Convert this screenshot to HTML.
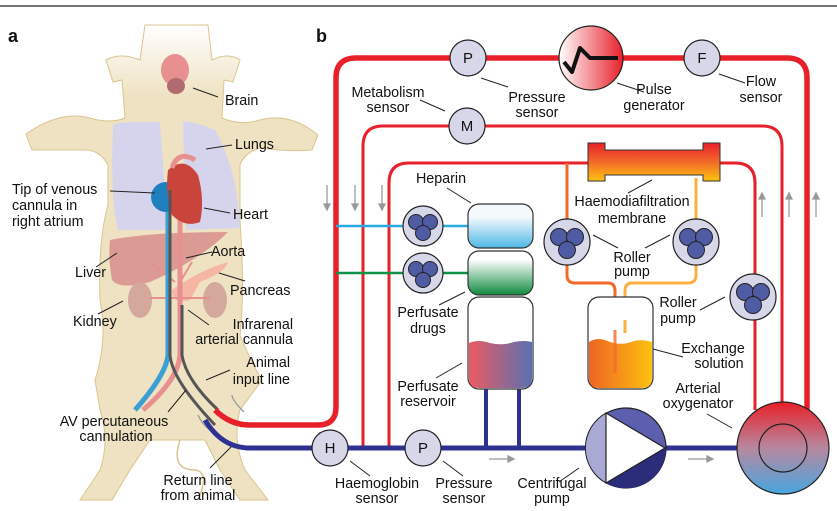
<!DOCTYPE html>
<html><head><meta charset="utf-8"><style>
body{margin:0;background:#fff}
svg{display:block}
text{font-family:"Liberation Sans",Arial,sans-serif;font-size:14.3px;fill:#111}
</style></head><body>
<svg width="837" height="511" viewBox="0 0 837 511" xmlns="http://www.w3.org/2000/svg">
<defs>
<linearGradient id="pg" x1="0" x2="1"><stop offset="0" stop-color="#fff"/><stop offset="1" stop-color="#e8202a"/></linearGradient>
<linearGradient id="hep" x1="0" y1="0" x2="0" y2="1"><stop offset="0.3" stop-color="#f4f9fc"/><stop offset="1" stop-color="#4fb8e6"/></linearGradient>
<linearGradient id="drg" x1="0" y1="0" x2="0" y2="1"><stop offset="0.2" stop-color="#fff"/><stop offset="1" stop-color="#0f8a3f"/></linearGradient>
<linearGradient id="res" x1="0" x2="1"><stop offset="0" stop-color="#ec5a63"/><stop offset="1" stop-color="#5a70b0"/></linearGradient>
<linearGradient id="exc" x1="0" x2="1"><stop offset="0" stop-color="#ee6324"/><stop offset="1" stop-color="#fcc20f"/></linearGradient>
<linearGradient id="mem" x1="0" y1="0" x2="0" y2="1"><stop offset="0" stop-color="#e8202a"/><stop offset="0.5" stop-color="#f26a2a"/><stop offset="1" stop-color="#fcc30f"/></linearGradient>
<linearGradient id="oxy" x1="0" y1="0" x2="0" y2="1"><stop offset="0" stop-color="#e8202a"/><stop offset="0.5" stop-color="#b7889f"/><stop offset="1" stop-color="#48a6e0"/></linearGradient>
<linearGradient id="head" x1="0" y1="0" x2="0" y2="1"><stop offset="0" stop-color="#fff"/><stop offset="0.15" stop-color="#efe2c2"/></linearGradient>
<g id="rp"><circle r="23" fill="#d7d7ea" stroke="#222" stroke-width="1.2"/><circle cx="-8" cy="-5" r="8.5" fill="#4f5ba3" stroke="#222" stroke-width="1"/><circle cx="8" cy="-5" r="8.5" fill="#4f5ba3" stroke="#222" stroke-width="1"/><circle cx="0" cy="8" r="8.5" fill="#4f5ba3" stroke="#222" stroke-width="1"/></g>
<g id="rps"><circle r="20" fill="#d7d7ea" stroke="#222" stroke-width="1.2"/><circle cx="-7" cy="-4" r="7.5" fill="#4f5ba3" stroke="#222" stroke-width="1"/><circle cx="7" cy="-4" r="7.5" fill="#4f5ba3" stroke="#222" stroke-width="1"/><circle cx="0" cy="7" r="7.5" fill="#4f5ba3" stroke="#222" stroke-width="1"/></g>
</defs>
<line x1="0" y1="6" x2="837" y2="6" stroke="#222" stroke-width="1.2"/>
<text x="8" y="42" style="font-weight:bold;font-size:18px">a</text>
<text x="316" y="42" style="font-weight:bold;font-size:18px">b</text>

<!-- PIG -->
<path d="M145 25 L208 25 L212 60 Q228 52 240 60 L233 82 L224 80 L222 118 Q240 126 260 120 Q290 112 318 135 L312 150 Q290 152 260 148 Q245 152 240 165 L240 220 Q245 290 240 335 Q250 360 262 380 L240 410 Q232 440 245 470 L268 500 L240 500 L220 470 L205 440 L150 440 L130 470 L112 500 L80 500 L100 470 Q110 440 100 410 L95 380 Q108 340 100 300 Q98 240 108 205 L108 165 Q100 150 85 150 Q55 150 32 150 L26 134 Q60 110 90 118 Q110 124 125 118 L122 80 L113 82 L106 60 Q120 52 140 60 Z" fill="url(#head)" stroke="#d8c690" stroke-width="1"/>
<path d="M180 440 Q170 470 195 470 Q210 472 198 500" fill="none" stroke="#d8c690" stroke-width="1.5"/>
<ellipse cx="175" cy="70" rx="14" ry="16" fill="#e88f90"/>
<ellipse cx="176" cy="86" rx="9" ry="8" fill="#b06a70"/>
<path d="M113 125 Q118 121 160 122 L168 230 L118 230 Q110 200 113 125Z" fill="#d6d4ec"/>
<path d="M183 122 Q190 120 215 130 Q238 170 240 228 L186 230Z" fill="#d6d4ec"/>
<path d="M110 240 Q150 232 228 232 Q200 260 150 282 Q120 290 112 280 Q108 260 110 240Z" fill="#dc9a94"/>
<path d="M172 290 Q200 270 228 262 Q226 272 200 282 L190 300 Q172 305 172 290Z" fill="#f5b6a4"/>
<ellipse cx="140" cy="300" rx="12" ry="18" fill="#d4a89c"/>
<ellipse cx="215" cy="300" rx="12" ry="18" fill="#d4a89c"/>
<path d="M150 298 L210 298 M150 262 L175 282 M192 262 L180 282" stroke="#e88f90" stroke-width="2" fill="none"/>
<path d="M168 210 L168 355 Q166 375 135 410" stroke="#3aa0d4" stroke-width="5" fill="none"/>
<path d="M180 180 L180 355 Q178 380 143 410" stroke="#e88f90" stroke-width="5" fill="none"/>
<circle cx="166" cy="197" r="15" fill="#1f80c0"/>
<path d="M168 170 Q185 155 198 175 Q205 200 200 222 Q185 228 172 215 Q165 195 168 170Z" fill="#c9443a"/>
<path d="M172 168 Q178 150 195 160" stroke="#e88f90" stroke-width="5" fill="none"/>
<path d="M170 190 L170 355 Q172 380 215 425" stroke="#555" stroke-width="3" fill="none"/>
<path d="M182 305 L182 355 Q186 380 218 410" stroke="#555" stroke-width="3" fill="none"/>
<path d="M244 412 Q232 400 232 395" stroke="#999" stroke-width="1.3" fill="none"/>
<path d="M198 415 Q204 428 214 432" stroke="#999" stroke-width="1.3" fill="none"/>
<g stroke="#222" stroke-width="1">
<line x1="193" y1="88" x2="218" y2="97"/><line x1="206" y1="149" x2="232" y2="145"/>
<line x1="110" y1="191" x2="155" y2="193"/><line x1="204" y1="208" x2="230" y2="213"/>
<line x1="186" y1="258" x2="212" y2="252"/><line x1="219" y1="273" x2="245" y2="281"/>
<line x1="96" y1="267" x2="117" y2="253"/><line x1="98" y1="314" x2="123" y2="301"/>
<line x1="188" y1="310" x2="209" y2="325"/><line x1="206" y1="380" x2="230" y2="370"/>
<line x1="168" y1="412" x2="186" y2="390"/><line x1="210" y1="468" x2="234" y2="444"/>
</g>
<text x="225" y="105">Brain</text><text x="235" y="149">Lungs</text>
<text x="12" y="194">Tip of venous</text><text x="12" y="210">cannula in</text><text x="12" y="226">right atrium</text>
<text x="233" y="219">Heart</text><text x="211" y="256">Aorta</text><text x="230" y="295">Pancreas</text>
<text x="75" y="277">Liver</text><text x="73" y="326">Kidney</text>
<text x="293" y="329" text-anchor="end">Infrarenal</text><text x="293" y="344" text-anchor="end">arterial cannula</text>
<text x="290" y="367" text-anchor="end">Animal</text><text x="290" y="384" text-anchor="end">input line</text>
<text x="114" y="426" text-anchor="middle">AV percutaneous</text><text x="116" y="441" text-anchor="middle">cannulation</text>
<text x="198" y="485" text-anchor="middle">Return line</text><text x="198" y="500" text-anchor="middle">from animal</text>

<!-- CIRCUIT lines -->
<path d="M215 410 Q230 425 250 425 L318 425 Q336 425 336 407 L336 78 Q336 58 356 58 L787 58 Q807 58 807 78 L807 410" fill="none" stroke="#e8202a" stroke-width="5.5"/>
<path d="M363 448 L363 146 Q363 126 383 126 L762 126 Q782 126 782 146 L782 405" fill="none" stroke="#e8202a" stroke-width="3"/>
<path d="M389 448 L389 183 Q389 163 409 163 L735 163 Q755 163 755 183 L755 410" fill="none" stroke="#e8202a" stroke-width="3"/>
<path d="M567 163 L567 275 Q567 283 575 283 L608 283 Q615 283 615 291 L615 373" fill="none" stroke="#f26a2a" stroke-width="3"/>
<path d="M696 178 L696 275 Q696 283 688 283 L632 283 Q625 283 625 291 L625 333" fill="none" stroke="#fbb040" stroke-width="3"/>
<line x1="336" y1="226" x2="468" y2="226" stroke="#27aae1" stroke-width="2.5"/>
<line x1="336" y1="273" x2="468" y2="273" stroke="#0f9145" stroke-width="2.5"/>
<path d="M205 420 Q222 448 250 448 L783 448" fill="none" stroke="#2e3192" stroke-width="5"/>
<line x1="486" y1="389" x2="486" y2="448" stroke="#2e3192" stroke-width="4"/>
<line x1="519" y1="389" x2="519" y2="448" stroke="#2e3192" stroke-width="4"/>

<!-- arrows -->
<g stroke="#999" stroke-width="1.3" fill="#999">
<line x1="327" y1="185" x2="327" y2="208"/><path d="M324 204 L327 210 L330 204Z"/>
<line x1="355" y1="185" x2="355" y2="208"/><path d="M352 204 L355 210 L358 204Z"/>
<line x1="382" y1="185" x2="382" y2="208"/><path d="M379 204 L382 210 L385 204Z"/>
<line x1="762" y1="196" x2="762" y2="217"/><path d="M759 199 L762 193 L765 199Z"/>
<line x1="789" y1="196" x2="789" y2="217"/><path d="M786 199 L789 193 L792 199Z"/>
<line x1="816" y1="196" x2="816" y2="217"/><path d="M813 199 L816 193 L819 199Z"/>
<line x1="489" y1="459" x2="512" y2="459"/><path d="M508 456 L514 459 L508 462Z"/>
<line x1="688" y1="459" x2="711" y2="459"/><path d="M707 456 L713 459 L707 462Z"/>
</g>

<!-- membrane -->
<path d="M588 143 L605 143 L605 150 L703 150 L703 143 L720 143 L720 181 L703 181 L703 175 L605 175 L605 181 L588 181Z" fill="url(#mem)" stroke="#333" stroke-width="1"/>

<!-- containers -->
<rect x="468" y="204" width="65" height="44" rx="11" fill="url(#hep)" stroke="#333" stroke-width="1.2"/>
<rect x="468" y="251" width="65" height="44" rx="11" fill="url(#drg)" stroke="#333" stroke-width="1.2"/>
<rect x="468" y="297" width="65" height="92" rx="11" fill="#fff" stroke="#333" stroke-width="1.2"/>
<path d="M469 343 Q478 339 490 343 Q502 346 514 342 Q524 340 532 342 L532 378 Q532 388 522 388 L479 388 Q469 388 469 378Z" fill="url(#res)"/>
<rect x="588" y="297" width="65" height="92" rx="11" fill="#fff" stroke="#333" stroke-width="1.2"/>
<path d="M589 342 Q598 336 610 342 Q622 346 634 341 Q644 339 652 342 L652 378 Q652 388 642 388 L599 388 Q589 388 589 378Z" fill="url(#exc)"/>
<line x1="615" y1="330" x2="615" y2="373" stroke="#f26a2a" stroke-width="3" opacity="0.8"/>
<line x1="625" y1="320" x2="625" y2="333" stroke="#fbb040" stroke-width="3"/>

<!-- pumps -->
<use href="#rps" x="423" y="226"/><use href="#rps" x="423" y="273"/>
<use href="#rp" x="567" y="242"/><use href="#rp" x="696" y="242"/><use href="#rp" x="753" y="297"/>

<!-- sensors -->
<g fill="#d7d7ea" stroke="#222" stroke-width="1.2">
<circle cx="468" cy="58" r="18"/><circle cx="702" cy="58" r="18"/><circle cx="467" cy="126" r="18"/>
<circle cx="330" cy="448" r="18"/><circle cx="423" cy="448" r="18"/>
</g>
<g text-anchor="middle">
<text x="468" y="63" style="font-size:15px">P</text><text x="702" y="63" style="font-size:15px">F</text><text x="467" y="131" style="font-size:15px">M</text>
<text x="330" y="453" style="font-size:15px">H</text><text x="423" y="453" style="font-size:15px">P</text>
</g>
<circle cx="591" cy="58" r="32" fill="url(#pg)" stroke="#222" stroke-width="1.2"/>
<path d="M564 62 L572 72 L580 48 L590 58 L618 58" fill="none" stroke="#111" stroke-width="4" stroke-linejoin="round"/>

<!-- centrifugal pump -->
<circle cx="626" cy="448" r="40" fill="#5b5fae" stroke="#222" stroke-width="1.2"/>
<path d="M626 448 L666 448 A40 40 0 0 1 606 483Z" fill="#2b2d7a"/>
<path d="M606 413 A40 40 0 0 0 606 483Z" fill="#a9a9d6" stroke="#222"/>
<path d="M606 413 L665 448 L606 483Z" fill="#fff" stroke="#222" stroke-width="1.2"/>
<!-- oxygenator -->
<circle cx="783" cy="448" r="46" fill="url(#oxy)" stroke="#222" stroke-width="1.2"/>
<circle cx="783" cy="448" r="24" fill="none" stroke="#222" stroke-width="1.2"/>

<!-- leader lines -->
<g stroke="#222" stroke-width="1">
<line x1="420" y1="100" x2="445" y2="111"/><line x1="481" y1="78" x2="508" y2="87"/>
<line x1="617" y1="83" x2="644" y2="92"/><line x1="719" y1="74" x2="745" y2="83"/>
<line x1="447" y1="188" x2="471" y2="203"/><line x1="628" y1="193" x2="652" y2="180"/>
<line x1="593" y1="235" x2="618" y2="248"/><line x1="645" y1="248" x2="670" y2="235"/>
<line x1="700" y1="310" x2="725" y2="297"/><line x1="653" y1="349" x2="683" y2="357"/>
<line x1="439" y1="305" x2="465" y2="292"/><line x1="436" y1="378" x2="462" y2="363"/>
<line x1="707" y1="414" x2="732" y2="428"/><line x1="350" y1="461" x2="370" y2="476"/>
<line x1="443" y1="461" x2="463" y2="476"/><line x1="559" y1="482" x2="579" y2="468"/>
</g>
<g text-anchor="middle">
<text x="388" y="97">Metabolism</text><text x="388" y="112">sensor</text>
<text x="537" y="102">Pressure</text><text x="537" y="117">sensor</text>
<text x="654" y="94">Pulse</text><text x="654" y="110">generator</text>
<text x="761" y="86">Flow</text><text x="761" y="102">sensor</text>
<text x="441" y="183">Heparin</text>
<text x="632" y="206">Haemodiafiltration</text><text x="632" y="223">membrane</text>
<text x="632" y="262">Roller</text><text x="632" y="276">pump</text>
<text x="678" y="307">Roller</text><text x="678" y="323">pump</text>
<text x="713" y="353">Exchange</text><text x="719" y="368">solution</text>
<text x="428" y="317">Perfusate</text><text x="428" y="333">drugs</text>
<text x="428" y="391">Perfusate</text><text x="428" y="406">reservoir</text>
<text x="698" y="393">Arterial</text><text x="698" y="408">oxygenator</text>
<text x="377" y="488">Haemoglobin</text><text x="377" y="503">sensor</text>
<text x="464" y="488">Pressure</text><text x="464" y="503">sensor</text>
<text x="552" y="488">Centrifugal</text><text x="552" y="503">pump</text>
</g>
</svg>
</body></html>
